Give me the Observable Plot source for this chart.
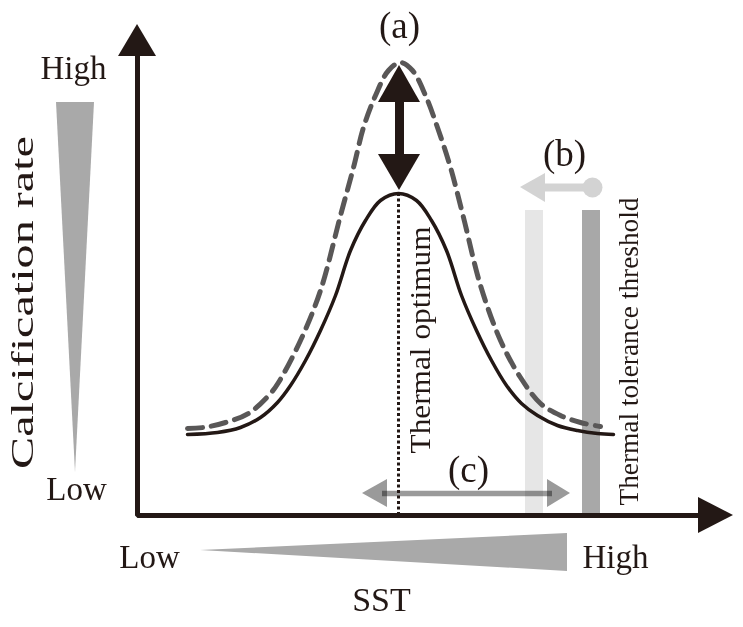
<!DOCTYPE html>
<html><head><meta charset="utf-8">
<script src="https://cdn.jsdelivr.net/npm/d3@7"></script>
<script src="https://cdn.jsdelivr.net/npm/@observablehq/plot@0.6"></script>
<style>body{margin:0;background:#fff}</style>
</head><body><div id="chart"></div>
<script>
// Conceptual chart units: x = SST (origin at y axis), y = calcification rate (origin at x axis)
const solidSST  = [50,80,103,123,140,153,168,183,198,213,228,243,261,279,294,309,324,339,354,369,384,400,420,440,460,476];
const solidRate = [81,83,88,98,113,130,155,185,220,265,295,315,322,315,295,265,220,185,155,130,112,100,90,85,82,81];
const dashSST   = [50,66,88,111,133,141,163,183,203,216,226,238,251,263,275,288,300,313,326,343,363,383,403,423,443,463];
const dashRate  = [87,88,93,102,122,133,175,225,300,348,388,420,445,453,445,420,388,348,298,230,175,138,112,100,93,89];

const optimumSST = 261, optimumRate = 322;
const axisX = [0, 0, 561], axisY = [459, 0, 0];
const barLight = {x1: 388, x2: 406, y1: 0, y2: 305};
const barDark  = {x1: 445, x2: 463, y1: 0, y2: 305};

// arrow heads & wedges (triangles)
const xHead  = [{x:561,y1:-18,y2:18},{x:596,y1:0,y2:0}];
const cLeft  = [{x:225,y1:22,y2:22},{x:250,y1:8,y2:36}];
const cRight = [{x:410,y1:8,y2:36},{x:433,y1:22,y2:22}];
const bHead  = [{x:383,y1:328,y2:328},{x:408,y1:313,y2:342}];
const hWedge = [{x:63,y1:-35,y2:-35},{x:430,y1:-56,y2:-18}];
const yHead  = [{y:459,x1:-19,x2:19},{y:491,x1:0,x2:0}];
const aUp    = [{y:413,x1:241,x2:283},{y:450,x1:262,x2:262}];
const aDown  = [{y:325,x1:262,x2:262},{y:361,x1:241,x2:283}];
const vWedge = [{y:43,x1:-62,x2:-62},{y:413,x1:-81,x2:-43}];

const cShaft = {x1: 245, x2: 415, y: 22};
const bShaft = {x1: 405, x2: 455, y: 328};
const aShaft = {x: 262, y1: 355, y2: 420};

const labels = [
  {t:"(a)", x:262, y:489, s:37},
  {t:"(b)", x:427, y:361, s:37},
  {t:"(c)", x:331, y:45, s:37},
  {t:"High", x:-64, y:447, s:33},
  {t:"Low", x:-61, y:26, s:33},
  {t:"Low", x:12, y:-42, s:33},
  {t:"High", x:478, y:-42, s:33},
  {t:"SST", x:244, y:-85, s:34}
];
const vLabels = [
  {t:"Calcification rate", x:-115, y:213, s:32, a:"middle", len:333},
  {t:"Thermal optimum", x:283, y:62, s:30, a:"start", len:227},
  {t:"Thermal tolerance threshold", x:492, y:10, s:27.5, a:"start", len:308}
];

const ink = "#231815";
const font = "Liberation Serif, Times New Roman, serif";
const solid = solidSST.map((x,i)=>({x, y: solidRate[i]}));
const dash = dashSST.map((x,i)=>({x, y: dashRate[i]}));
const axis = axisX.map((x,i)=>({x, y: axisY[i]}));

const plot = Plot.plot({
  width: 743, height: 627,
  margin: 0,
  x: {domain: [-137, 606], axis: null},
  y: {domain: [-112, 515], axis: null},
  style: {background: "white"},
  marks: [
    Plot.rect([barLight], {x1:"x1", x2:"x2", y1:"y1", y2:"y2", fill:"#e6e6e6"}),
    Plot.rect([barDark], {x1:"x1", x2:"x2", y1:"y1", y2:"y2", fill:"#a8a8a8"}),
    Plot.ruleY([cShaft], {x1:"x1", x2:"x2", y:"y", stroke:"#9a9a9a", strokeWidth:5.5, mixBlendMode:"multiply"}),
    Plot.areaY(cLeft, {x:"x", y1:"y1", y2:"y2", fill:"#9a9a9a", mixBlendMode:"multiply"}),
    Plot.areaY(cRight, {x:"x", y1:"y1", y2:"y2", fill:"#9a9a9a", mixBlendMode:"multiply"}),
    Plot.ruleY([bShaft], {x1:"x1", x2:"x2", y:"y", stroke:"#d3d3d3", strokeWidth:8}),
    Plot.areaY(bHead, {x:"x", y1:"y1", y2:"y2", fill:"#d3d3d3"}),
    Plot.dot([bShaft], {x:"x2", y:"y", r:10, fill:"#d3d3d3"}),
    Plot.line(solid, {x:"x", y:"y", curve:"catmull-rom", stroke:ink, strokeWidth:3.5}),
    Plot.line(dash, {x:"x", y:"y", curve:"catmull-rom", stroke:"#595757", strokeWidth:5, strokeDasharray:"15,9"}),
    Plot.ruleX([optimumSST], {y1:0, y2:optimumRate, stroke:ink, strokeWidth:3, strokeDasharray:"3,2.5"}),
    Plot.ruleX([aShaft], {x:"x", y1:"y1", y2:"y2", stroke:ink, strokeWidth:9}),
    Plot.areaX(aUp, {y:"y", x1:"x1", x2:"x2", fill:ink}),
    Plot.areaX(aDown, {y:"y", x1:"x1", x2:"x2", fill:ink}),
    Plot.line(axis, {x:"x", y:"y", stroke:ink, strokeWidth:5, strokeLinejoin:"miter", strokeLinecap:"square"}),
    Plot.areaY(xHead, {x:"x", y1:"y1", y2:"y2", fill:ink}),
    Plot.areaX(yHead, {y:"y", x1:"x1", x2:"x2", fill:ink}),
    Plot.areaY(hWedge, {x:"x", y1:"y1", y2:"y2", fill:"#a9a9a9"}),
    Plot.areaX(vWedge, {y:"y", x1:"x1", x2:"x2", fill:"#a9a9a9"}),
    ...labels.map(d => Plot.text([d], {x:"x", y:"y", text:"t", fontSize:d.s, fontFamily:font, fill:ink})),
    ...vLabels.map(d => Plot.text([d], {x:"x", y:"y", text:"t", rotate:-90, textAnchor:d.a, fontSize:d.s, fontFamily:font, fill:ink}))
  ]
});
// stretch the rotated labels to the lengths seen in the figure
d3.select(plot).selectAll("text").each(function() {
  const v = vLabels.find(d => d.t === this.textContent);
  if (v) { this.setAttribute("textLength", v.len); this.setAttribute("lengthAdjust", "spacingAndGlyphs"); }
});
document.getElementById("chart").appendChild(plot);
</script>
</body></html>
